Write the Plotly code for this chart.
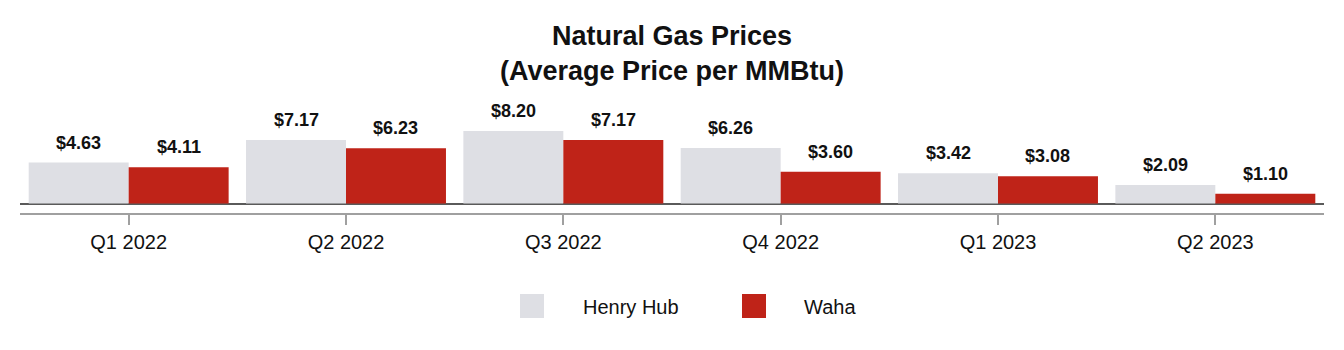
import plotly.graph_objects as go

categories = ["Q1 2022", "Q2 2022", "Q3 2022", "Q4 2022", "Q1 2023", "Q2 2023"]
henry_hub = [4.63, 7.17, 8.20, 6.26, 3.42, 2.09]
waha = [4.11, 6.23, 7.17, 3.60, 3.08, 1.10]
series_names = ["Henry Hub", "Waha"]
colors = ["#DEDFE4", "#BF2318"]

W, H = 1344, 350
ML, MR, MT, MB = 20, 20, 100, 137
BARGAP = 0.08
FONT = "Liberation Sans Narrow, Arial Narrow, Arial, Liberation Sans, sans-serif"

plot_w = W - ML - MR
plot_h = H - MT - MB
bar_w = plot_w / len(categories) * (1 - BARGAP) / 2

fig = go.Figure()
for name, vals, col in zip(series_names, [henry_hub, waha], colors):
    fig.add_trace(go.Bar(x=categories, y=vals, name=name, marker=dict(color=col, line=dict(width=0)),
                         showlegend=False, hoverinfo="x+y+name"))

# data labels
for i, (name, vals) in enumerate(zip(series_names, [henry_hub, waha])):
    shift = (i - 0.5) * bar_w
    for c, v in zip(categories, vals):
        fig.add_annotation(x=c, y=v, xref="x", yref="y", text=f"<b>${v:.2f}</b>", showarrow=False,
                           xshift=shift, yshift=20, yanchor="middle",
                           font=dict(family=FONT, size=18, color="#111111"))

def px_x(p):
    return (p - ML) / plot_w

def px_y(p):
    return (H - MB - p) / plot_h

# manual legend
leg_items = [(520, 581), (742, 802)]
for (sx, tx), name, col in zip(leg_items, series_names, colors):
    fig.add_shape(type="rect", xref="paper", yref="paper", x0=px_x(sx), x1=px_x(sx + 24),
                  y0=px_y(318), y1=px_y(294), fillcolor=col, line=dict(width=0))
    fig.add_annotation(xref="paper", yref="paper", x=px_x(tx), y=px_y(307), text=name, showarrow=False,
                       xanchor="left", yanchor="middle", font=dict(family=FONT, size=20, color="#111111"))

scale = 8.85
zero_px = 203.5
ymin = -(H - MB - zero_px) / scale
ymax = (zero_px - MT) / scale

fig.update_layout(
    width=W, height=H,
    margin=dict(l=ML, r=MR, t=MT, b=MB),
    paper_bgcolor="white", plot_bgcolor="white",
    barmode="group", bargap=BARGAP, bargroupgap=0,
    title=dict(text="<b>Natural Gas Prices<br>(Average Price per MMBtu)</b>", x=0.5, xanchor="center",
               y=1 - 45 / H, yref="container", yanchor="middle",
               font=dict(family=FONT, size=27, color="#111111")),
    xaxis=dict(showline=True, linecolor="#A0A0A0", linewidth=2, ticks="outside", ticklen=10,
               tickcolor="#A0A0A0", tickwidth=1.5, showgrid=False,
               tickfont=dict(family=FONT, size=20, color="#111111")),
    yaxis=dict(range=[ymin, ymax], visible=True, showticklabels=False, showgrid=False,
               zeroline=True, zerolinecolor="#5A5A5A", zerolinewidth=1.5, showline=False, ticks=""),
    showlegend=False,
)

fig.write_html("out.html")
